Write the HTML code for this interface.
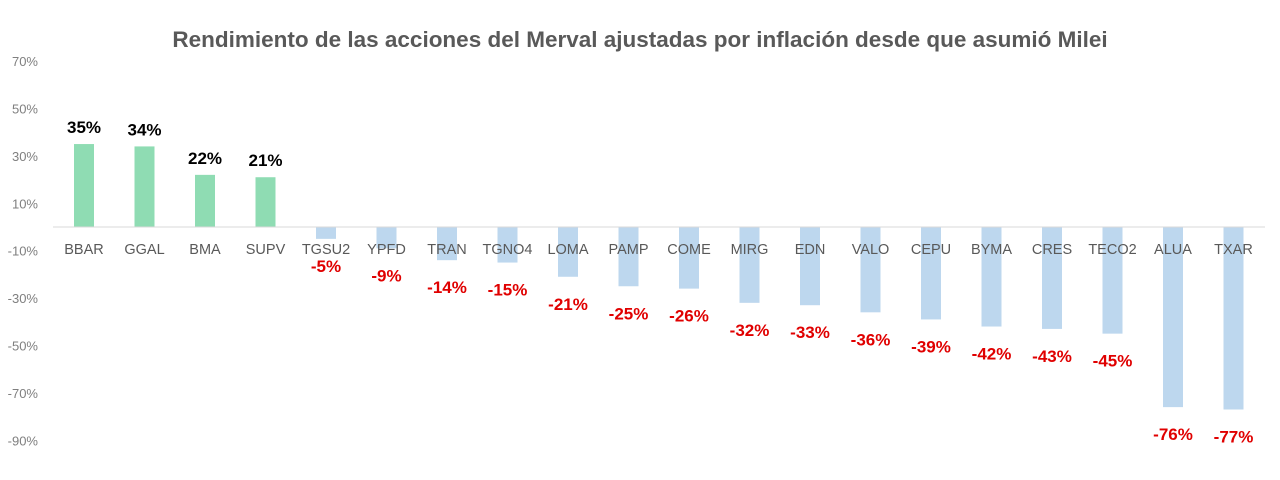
<!DOCTYPE html>
<html><head><meta charset="utf-8"><style>
body{margin:0;background:#fff;width:1280px;height:475px;overflow:hidden;font-family:"Liberation Sans",sans-serif}
</style></head><body>
<svg id="c" width="1280" height="475">
<text x="640" y="47" text-anchor="middle" font-size="22.5" font-weight="bold" fill="#595959">Rendimiento de las acciones del Merval ajustadas por inflación desde que asumió Milei</text>
</svg>
<script>
const categories=["BBAR","GGAL","BMA","SUPV","TGSU2","YPFD","TRAN","TGNO4","LOMA","PAMP","COME","MIRG","EDN","VALO","CEPU","BYMA","CRES","TECO2","ALUA","TXAR"];
const values=[35,34,22,21,-5,-9,-14,-15,-21,-25,-26,-32,-33,-36,-39,-42,-43,-45,-76,-77];
const ticks=[70,50,30,10,-10,-30,-50,-70,-90];
const svg=document.getElementById('c');const NS='http://www.w3.org/2000/svg';
const y=v=>227-v*2.37;
const x=i=>84+i*60.5;
function mk(t,a){const e=document.createElementNS(NS,t);for(const k in a)e.setAttribute(k,a[k]);svg.appendChild(e);return e;}
ticks.forEach(t=>{const e=mk('text',{x:38,y:y(t)+5,'text-anchor':'end','font-size':13,fill:'#7f7f7f'});e.textContent=t+'%';

});
categories.forEach((c,i)=>{const v=values[i];
const r=mk('rect',{x:x(i)-10,y:Math.min(y(v),y(0)),width:20,height:Math.abs(y(v)-y(0)),fill:v>=0?'#8fdcb3':'#bdd7ee'});


const l=mk('text',{x:x(i),y:254,'text-anchor':'middle','font-size':14.5,fill:'#595959'});l.textContent=c;


const vl=mk('text',{x:x(i),y:v>=0?y(v)-11:y(v)+33,'text-anchor':'middle','font-size':17,'font-weight':'bold',fill:v>=0?'#000':'#e00000'});vl.textContent=v+'%';

});
const z=mk('line',{x1:53,x2:1265,y1:y(0),y2:y(0),stroke:'#d9d9d9','stroke-width':1});


</script>
</body></html>
